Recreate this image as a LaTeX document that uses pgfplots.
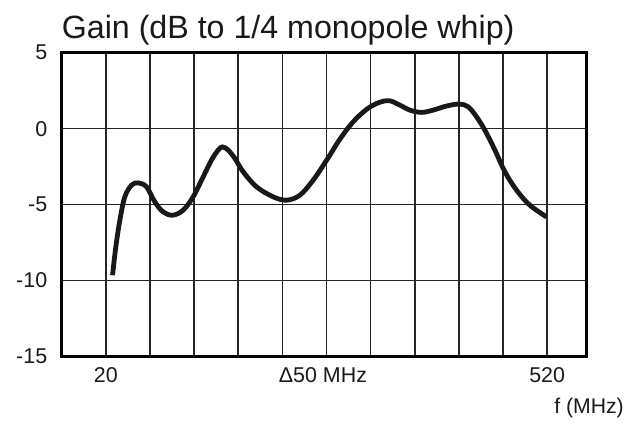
\documentclass[border=0pt]{standalone}
\usepackage{pgfplots}
\pgfplotsset{compat=1.18}
\usepackage{fontspec}
\setmainfont{Liberation Sans}
\begin{document}
\begin{tikzpicture}
\begin{axis}[
  scale only axis,
  width=524.3bp, height=303.8bp,
  at={(0,0)}, anchor=south west,
  xmin=-30, xmax=564,
  ymin=-15, ymax=5,
  xtick={20,70,...,520},
  xticklabels={20,,,,,,,,,,520},
  ytick={-15,-10,-5,0,5},
  extra x ticks={266},
  extra x tick labels={Δ50 MHz},
  extra x tick style={grid=none, major tick length=0pt},
  major tick length=0pt,
  xmajorgrids, ymajorgrids,
  grid style={line width=1.6bp, color=black!85},
  axis line style={line width=3bp, black},
  /pgf/number format/assume math mode=true,
  tick label style={font=\fontsize{21.5}{25}\selectfont, text=black!90},
  xticklabel style={yshift=-8bp},
  yticklabel style={xshift=-11bp},
  clip=false,
  axis on top=false,
]
\addplot[line width=4.8bp, black!90, smooth, tension=0.55] coordinates {
(27.6,-9.65) (31.3,-7.79) (35.9,-6.03) (41.5,-4.49) (49.1,-3.72) (56.6,-3.57)
(66.1,-3.83) (75.5,-4.82) (84.9,-5.48) (95.6,-5.70) (107.6,-5.37) (118.9,-4.49)
(130.3,-3.17) (139.7,-2.07) (147.3,-1.41) (152.2,-1.20) (158.6,-1.41) (166.2,-1.96)
(175.6,-2.84) (190.7,-3.83) (209.6,-4.49) (224.8,-4.71) (239.9,-4.38) (254.9,-3.39)
(271.0,-2.00) (285.1,-0.70) (300.2,0.45) (315.4,1.27) (328.6,1.70) (341.0,1.84)
(353.1,1.55) (364.4,1.22) (377.7,1.07) (390.8,1.22) (406.0,1.49) (420.3,1.62)
(430.5,1.44) (440.0,0.78) (449.4,-0.10) (460.8,-1.41) (472.1,-2.84) (485.3,-4.05)
(500.4,-5.04) (519.3,-5.81)
};
\node[anchor=base west, inner sep=0pt, font=\fontsize{32.3}{38}\selectfont, text=black!90]
  at (rel axis cs:0,1) [yshift=14.4bp] {Gain (dB to 1/4 monopole whip)};
\node[anchor=base east, inner sep=0pt, font=\fontsize{21.3}{25}\selectfont, text=black!90]
  at (rel axis cs:1,0) [xshift=38bp, yshift=-56.5bp] {f (MHz)};
\end{axis}
\pgfresetboundingbox
\path[use as bounding box] (-61.7bp,-67.5bp) rectangle (570.3bp,356.5bp);
\end{tikzpicture}
\end{document}
